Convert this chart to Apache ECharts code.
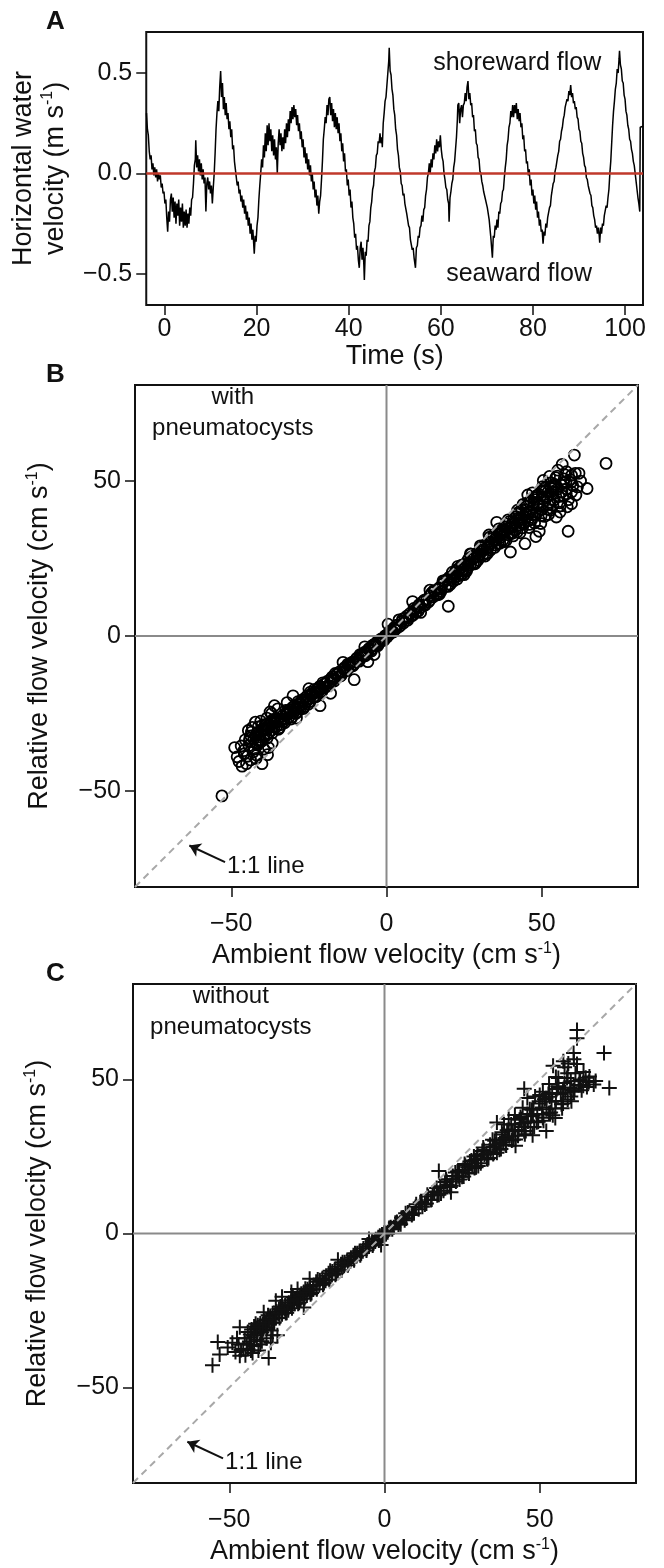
<!DOCTYPE html>
<html>
<head>
<meta charset="utf-8">
<script src="https://cdn.jsdelivr.net/npm/echarts@6/dist/echarts.min.js"></script>
<style>
  html, body { margin: 0; padding: 0; background: #fff; }
  #main { width: 664px; height: 1568px; }
</style>
</head>
<body>
<div id="main"></div>
<script>
// panel A: horizontal water velocity (m/s) against time (s)
var flowTrace = [
  [-3.9,0.30],[-3.7,0.22],[-3.5,0.19],[-3.3,0.11],[-3.1,0.07],[-2.9,0.09],[-2.7,0.02],[-2.5,0.05],[-2.3,-0.01],[-2.1,0.03],
  [-1.9,-0.02],[-1.7,0.02],[-1.5,-0.04],[-1.3,0.0],[-1.1,-0.03],[-0.9,-0.01],[-0.7,-0.07],[-0.5,-0.05],[-0.3,-0.10],[-0.1,-0.09],
  [0.1,-0.15],[0.3,-0.13],[0.5,-0.22],[0.7,-0.29],[0.9,-0.19],[1.1,-0.24],[1.3,-0.13],[1.5,-0.10],[1.7,-0.19],[1.9,-0.12],
  [2.1,-0.22],[2.3,-0.14],[2.5,-0.25],[2.7,-0.15],[2.9,-0.21],[3.1,-0.13],[3.3,-0.26],[3.5,-0.17],[3.7,-0.24],[3.9,-0.15],
  [4.1,-0.27],[4.3,-0.19],[4.5,-0.26],[4.7,-0.18],[4.9,-0.27],[5.1,-0.20],[5.3,-0.25],[5.5,-0.17],[5.7,-0.21],[5.9,-0.13],
  [6.1,-0.12],[6.3,-0.05],[6.5,0.04],[6.7,0.07],[6.8,0.165],[7.0,0.03],[7.2,0.09],[7.4,0.01],[7.6,0.07],[7.8,-0.01],
  [8.0,0.05],[8.2,-0.03],[8.4,0.02],[8.6,-0.05],[8.8,-0.02],[9.0,-0.19],[9.2,-0.05],[9.4,-0.02],[9.6,-0.08],[9.8,-0.04],
  [10.0,-0.10],[10.2,-0.06],[10.4,-0.15],[10.6,-0.07],[10.8,0.0],[11.0,0.10],[11.2,0.22],[11.4,0.30],[11.6,0.36],[11.8,0.31],
  [12.0,0.43],[12.2,0.51],[12.4,0.38],[12.6,0.45],[12.8,0.32],[13.0,0.38],[13.2,0.29],[13.4,0.35],[13.6,0.27],[13.8,0.30],
  [14.0,0.22],[14.2,0.26],[14.4,0.18],[14.6,0.22],[14.8,0.12],[15.0,0.14],[15.2,0.06],[15.4,0.02],[15.6,-0.02],[15.8,-0.06],
  [16.0,-0.04],[16.2,-0.10],[16.4,-0.08],[16.6,-0.14],[16.8,-0.11],[17.0,-0.17],[17.2,-0.13],[17.4,-0.20],[17.6,-0.16],[17.8,-0.23],
  [18.0,-0.19],[18.2,-0.26],[18.4,-0.22],[18.6,-0.30],[18.8,-0.25],[19.0,-0.33],[19.2,-0.28],[19.4,-0.36],[19.5,-0.40],[19.7,-0.31],
  [19.9,-0.34],[20.1,-0.26],[20.3,-0.22],[20.5,-0.13],[20.7,-0.06],[20.9,0.0],[21.1,0.07],[21.3,0.03],[21.5,0.14],[21.7,0.08],
  [21.9,0.20],[22.1,0.11],[22.3,0.24],[22.5,0.14],[22.7,0.25],[22.9,0.16],[23.1,0.22],[23.3,0.11],[23.5,0.19],[23.7,0.09],
  [23.9,0.17],[24.1,0.07],[24.3,0.13],[24.5,0.0],[24.7,0.15],[24.9,0.22],[25.1,0.14],[25.3,0.20],[25.5,0.11],[25.7,0.18],
  [25.9,0.12],[26.1,0.22],[26.3,0.15],[26.5,0.25],[26.7,0.18],[26.9,0.27],[27.1,0.21],[27.3,0.31],[27.5,0.25],[27.7,0.33],
  [27.9,0.27],[28.1,0.34],[28.3,0.28],[28.5,0.32],[28.7,0.24],[28.9,0.29],[29.1,0.21],[29.3,0.25],[29.5,0.17],[29.7,0.21],
  [29.9,0.13],[30.1,0.17],[30.3,0.08],[30.5,0.13],[30.7,0.05],[30.9,0.10],[31.1,0.02],[31.3,0.07],[31.5,-0.01],[31.7,0.04],
  [31.9,-0.04],[32.1,0.0],[32.3,-0.08],[32.5,-0.04],[32.7,-0.12],[32.9,-0.08],[33.1,-0.16],[33.3,-0.11],[33.5,-0.20],[33.7,-0.14],
  [33.9,-0.11],[34.1,-0.03],[34.3,0.06],[34.5,0.17],[34.7,0.22],[34.9,0.28],[35.1,0.25],[35.3,0.34],[35.5,0.29],[35.7,0.37],
  [35.9,0.38],[36.1,0.29],[36.3,0.35],[36.5,0.26],[36.7,0.32],[36.9,0.23],[37.1,0.30],[37.3,0.22],[37.5,0.28],[37.7,0.20],
  [37.9,0.25],[38.1,0.16],[38.3,0.20],[38.5,0.11],[38.7,0.15],[38.9,0.06],[39.1,0.10],[39.3,0.01],[39.5,0.02],[39.7,-0.06],
  [39.9,-0.03],[40.1,-0.11],[40.3,-0.08],[40.5,-0.17],[40.7,-0.14],[40.9,-0.22],[41.1,-0.25],[41.3,-0.32],[41.5,-0.30],[41.7,-0.38],
  [41.9,-0.36],[42.1,-0.43],[42.3,-0.47],[42.5,-0.37],[42.7,-0.34],[42.9,-0.43],[43.1,-0.37],[43.3,-0.46],[43.4,-0.53],[43.6,-0.39],
  [43.8,-0.41],[44.0,-0.33],[44.2,-0.34],[44.4,-0.26],[44.6,-0.24],[44.8,-0.17],[45.0,-0.14],[45.2,-0.08],[45.4,-0.06],[45.6,0.01],
  [45.8,0.03],[46.0,0.09],[46.2,0.10],[46.4,0.16],[46.6,0.15],[46.8,0.20],[47.0,0.15],[47.2,0.18],[47.3,0.13],[47.5,0.25],
  [47.7,0.30],[47.9,0.36],[48.1,0.38],[48.3,0.44],[48.5,0.50],[48.7,0.56],[48.8,0.625],[49.0,0.51],[49.2,0.49],[49.4,0.42],
  [49.6,0.39],[49.8,0.32],[50.0,0.29],[50.2,0.22],[50.4,0.19],[50.6,0.12],[50.8,0.09],[51.0,0.03],[51.2,0.01],[51.4,-0.05],
  [51.6,-0.06],[51.8,-0.11],[52.0,-0.10],[52.2,-0.15],[52.4,-0.15],[52.6,-0.20],[52.8,-0.20],[53.0,-0.26],[53.2,-0.27],[53.4,-0.33],
  [53.6,-0.33],[53.8,-0.38],[54.0,-0.37],[54.2,-0.42],[54.5,-0.47],[54.7,-0.37],[54.9,-0.36],[55.1,-0.31],[55.3,-0.32],[55.5,-0.27],
  [55.7,-0.26],[55.9,-0.21],[56.1,-0.24],[56.3,-0.18],[56.5,-0.17],[56.7,-0.11],[56.9,-0.08],[57.1,-0.02],[57.3,0.0],[57.5,0.05],
  [57.7,0.0],[57.9,0.07],[58.1,0.03],[58.3,0.10],[58.5,0.07],[58.7,0.14],[58.9,0.10],[59.1,0.17],[59.3,0.11],[59.5,0.16],
  [59.7,0.13],[59.9,0.19],[60.1,0.12],[60.3,0.08],[60.5,0.06],[60.7,0.0],[60.9,-0.03],[61.1,-0.07],[61.3,-0.08],[61.5,-0.13],
  [61.7,-0.15],[61.8,-0.24],[62.0,-0.12],[62.2,-0.09],[62.4,-0.05],[62.6,-0.03],[62.8,0.03],[63.0,0.06],[63.2,0.12],[63.4,0.18],
  [63.6,0.27],[63.7,0.34],[63.9,0.35],[64.1,0.25],[64.3,0.32],[64.5,0.34],[64.7,0.28],[64.9,0.34],[65.1,0.35],[65.3,0.40],
  [65.5,0.36],[65.7,0.43],[65.9,0.46],[66.1,0.37],[66.3,0.40],[66.5,0.34],[66.7,0.35],[66.9,0.28],[67.1,0.29],[67.3,0.21],
  [67.5,0.22],[67.7,0.15],[67.9,0.14],[68.1,0.08],[68.3,0.07],[68.5,0.01],[68.7,0.0],[68.9,-0.04],[69.1,-0.06],[69.3,-0.09],
  [69.5,-0.11],[69.7,-0.13],[69.9,-0.15],[70.1,-0.17],[70.3,-0.20],[70.5,-0.23],[70.7,-0.28],[70.9,-0.33],[71.0,-0.36],[71.2,-0.42],
  [71.4,-0.31],[71.6,-0.32],[71.8,-0.26],[72.0,-0.28],[72.2,-0.23],[72.4,-0.27],[72.6,-0.19],[72.8,-0.20],[73.0,-0.15],[73.2,-0.14],
  [73.4,-0.09],[73.6,-0.08],[73.8,-0.02],[74.0,0.03],[74.2,0.07],[74.4,0.14],[74.6,0.17],[74.8,0.23],[75.0,0.25],[75.2,0.31],
  [75.4,0.28],[75.6,0.34],[75.8,0.28],[76.0,0.34],[76.2,0.30],[76.4,0.35],[76.6,0.27],[76.8,0.32],[77.0,0.26],[77.2,0.30],
  [77.4,0.23],[77.6,0.25],[77.8,0.17],[78.0,0.19],[78.2,0.11],[78.4,0.12],[78.6,0.05],[78.8,0.06],[79.0,-0.01],[79.2,0.02],
  [79.4,-0.06],[79.6,-0.03],[79.8,-0.11],[80.0,-0.08],[80.2,-0.15],[80.4,-0.11],[80.6,-0.18],[80.8,-0.14],[81.0,-0.22],[81.2,-0.19],
  [81.4,-0.26],[81.6,-0.23],[81.8,-0.29],[82.0,-0.28],[82.2,-0.35],[82.4,-0.29],[82.6,-0.31],[82.8,-0.25],[83.0,-0.27],[83.2,-0.22],
  [83.4,-0.22],[83.6,-0.17],[83.8,-0.16],[84.0,-0.11],[84.2,-0.11],[84.4,-0.05],[84.6,-0.04],[84.8,0.01],[85.0,0.03],[85.2,0.06],
  [85.4,0.09],[85.6,0.11],[85.8,0.16],[86.0,0.17],[86.2,0.21],[86.4,0.23],[86.6,0.27],[86.8,0.29],[87.0,0.33],[87.2,0.33],
  [87.4,0.37],[87.6,0.36],[87.8,0.41],[88.0,0.39],[88.2,0.44],[88.4,0.38],[88.6,0.40],[88.8,0.35],[89.0,0.36],[89.2,0.32],
  [89.4,0.33],[89.6,0.28],[89.8,0.27],[90.0,0.22],[90.2,0.21],[90.4,0.16],[90.6,0.15],[90.8,0.10],[91.0,0.08],[91.2,0.04],
  [91.4,0.03],[91.6,-0.02],[91.8,-0.03],[92.0,-0.06],[92.2,-0.06],[92.4,-0.10],[92.6,-0.11],[92.8,-0.16],[93.0,-0.17],[93.2,-0.21],
  [93.4,-0.23],[93.6,-0.27],[93.8,-0.26],[94.0,-0.30],[94.2,-0.27],[94.4,-0.31],[94.5,-0.345],[94.7,-0.27],[94.9,-0.30],[95.1,-0.25],
  [95.3,-0.26],[95.5,-0.21],[95.7,-0.21],[95.9,-0.16],[96.1,-0.17],[96.3,-0.12],[96.5,-0.08],[96.7,0.0],[96.9,0.06],[97.1,0.15],
  [97.3,0.24],[97.5,0.31],[97.7,0.36],[97.9,0.42],[98.1,0.45],[98.3,0.52],[98.5,0.50],[98.7,0.57],[98.8,0.61],[99.0,0.54],
  [99.2,0.52],[99.4,0.46],[99.6,0.45],[99.8,0.39],[100.0,0.37],[100.2,0.31],[100.4,0.29],[100.6,0.24],[100.8,0.22],[101.0,0.17],
  [101.2,0.16],[101.4,0.12],[101.6,0.10],[101.8,0.06],[102.0,0.04],[102.2,0.0],[102.4,-0.04],[102.6,-0.08],[102.8,-0.12],[103.0,-0.15],
  [103.2,-0.19],[103.3,0.23],[103.9,0.235]
]
var timeRange = [-3.95, 103.9]
var velocityRange = [-0.655, 0.704]
var timeTicks = [0, 20, 40, 60, 80, 100]
var velocityTicks = [-0.5, 0, 0.5]

// panels B and C: [ambient, relative] flow velocity (cm/s)
var withPneumatocysts = [
  [-53.0,-51.6],[-48.9,-36.0],[-48.1,-39.0],[-45.1,-41.2],[-44.3,-35.4],[-40.1,-41.2],[-38.3,-38.3],[-41.6,-34.8],[-43.0,-37.5],[-39.5,-36.5],
  [-36.1,-22.5],[-37.0,-25.0],[-38.5,-26.5],[-41.3,-29.3],[-40.2,-29.0],[-39.0,-28.5],[-30.1,-19.3],[-21.4,-22.5],[-10.4,-14.1],[-6.0,-8.3],
  [0.5,3.8],[8.4,11.1],[19.9,9.6],[35.5,36.7],[39.9,27.1],[44.6,29.8],[48.1,32.1],[49.2,33.8],[54.7,38.4],[58.5,33.8],
  [59.6,42.7],[59.6,46.5],[64.6,47.6],[59.6,51.9],[56.6,55.4],[60.5,58.4],[70.7,55.7],[50.3,48.2],
  [-42,-32.1],[-41,-34.0],[-40,-30.0],[-39.5,-32.1],[-39,-28.8],[-38,-31.4],[-37.5,-28.8],[-37,-30.4],[-36,-27.0],[-35.5,-29.3],
  [-35,-27.4],[-34,-28.6],[-33.5,-25.8],[-33,-26.7],[-32,-24.3],[-31.5,-26.3],[-31,-24.4],[-30,-24.9],[-29.5,-22.4],[-29,-23.8],
  [-28,-21.6],[-27.5,-23.0],[-27,-21.1],[-26,-21.5],[-25.5,-19.3],[-25,-20.4],[-24,-18.5],[-23.5,-19.7],[-23,-18.1],[-22,-18.2],
  [-21.5,-16.3],[-21,-17.0],[-20,-15.5],[-19.5,-16.4],[-19,-14.6],[-18,-14.9],[-17.5,-13.2],[-17,-13.9],[-16,-12.4],[-15.5,-13.1],
  [-15,-11.5],[-14,-11.6],[-13.5,-10.2],[-13,-10.9],[-12,-9.3],[-11.5,-9.8],[-11,-8.4],[-10,-8.3],[-9.5,-7.1],[-9,-7.6],
  [-8,-6.1],[-7.5,-6.5],[-7,-5.2],[-6,-5.1],[-5.5,-4.0],[-5,-4.4],[-4,-2.9],[-3.5,-3.1],[-3,-1.9],[-2,-1.8],
  [-1.5,-0.9],[-1,-1.1],[0,0.2],
  [-41.5,-35.2],[-40.5,-31.6],[-38.5,-33.0],[-36.5,-26.9],[-34.5,-29.6],[-32.5,-24.0],[-30.5,-26.2],[-28.5,-21.2],[-26.5,-22.8],[-24.5,-18.1],
  [-22.5,-19.4],[-20.5,-15.1],[-18.5,-16.0],[-16.5,-12.1],[-14.5,-12.6],[-12.5,-9.1],[-10.5,-9.2],[-8.5,-6.0],[-6.5,-5.9],[-4.5,-3.0],
  [-2.5,-2.5],[-0.5,0.0],
  [-46,-37],[-44,-33],[-42.5,-36.5],[-43.5,-31],[-40.5,-27.5],[-37.5,-24.5],[-35,-23.5],[-32,-21.5],[-29,-26.5],[-25,-17],
  [-18,-18.5],[-14,-8.5],[-4,-6.0],[-7,-3.5],
  [-42.8,-33.2],[-41.8,-31.3],[-40.8,-33.5],[-39.8,-30.6],[-38.8,-32.2],[-37.8,-29.5],[-36.8,-31.3],[-35.8,-28.0],[-34.8,-30.1],[-33.8,-26.9],
  [-32.8,-28.0],[-31.8,-25.2],[-30.8,-26.8],[-29.8,-23.5],[-28.8,-24.6],[-27.8,-22.2],[-26.8,-23.4],[-25.8,-20.4],[-24.8,-21.2],[-23.8,-18.8],
  [-22.8,-19.6],[-21.8,-17.1],[-20.8,-17.9],[-19.8,-15.4],[-18.8,-16.1],[-17.8,-13.8],[-16.8,-14.5],[-15.8,-12.2],[-14.8,-12.9],[-13.8,-10.7],
  [-12.8,-11.2],[-11.8,-9.0],[-10.8,-9.6],[-9.8,-7.5],[-8.8,-8.1],[-7.8,-5.8],[-6.8,-6.4],[-5.8,-4.3],[-4.8,-4.8],[-3.8,-2.6],
  [-2.8,-3.1],[-1.8,-1.0],[-0.8,-1.4],
  [-44.5,-30.5],[-45.5,-33.5],[-43.2,-29.5],[-42.2,-27.8],[-46.8,-35.5],[-47.5,-40.5],[-44.8,-38.8],[-41.8,-38.5],
  [-44.2,-33.8],[-43.7,-32.2],[-42.2,-34.5],[-41.2,-32.6],[-40.3,-34.0],[-39.2,-30.1],[-38.2,-30.0],[-37.2,-27.6],[-36.2,-29.2],[-35.2,-26.8],
  [-34.2,-27.4],[-33.2,-27.7],[-32.2,-25.5],[-31.2,-23.8],[-30.2,-23.0],[-29.2,-25.0],[-28.2,-23.2],[-27.2,-20.6],[-26.2,-20.0],[-25.2,-22.0],
  [-24.2,-19.3],[-23.2,-17.2],[-22.2,-17.0],[-21.2,-18.3],[-20.2,-16.6],[-43.8,-40.0],[-45.8,-38.0],[-46.5,-42.0],[-42.0,-39.5],[-38.0,-36.0],
  [-36.8,-34.5],
  [0.5,0.7],[1,0.6],[1.5,1.7],[2,1.4],[2.5,2.7],[3,2.3],[3.5,3.5],[4,3.0],[5,4.7],[5.5,4.2],
  [6,5.8],[7,5.8],[7.5,7.2],[8,6.5],[9,8.3],[9.5,7.7],[10,9.4],[11,9.2],[11.5,10.9],[12,10.0],
  [13,11.9],[13.5,11.0],[14,13.0],[15,12.6],[15.5,14.5],[16,13.3],[17,15.6],[17.5,14.4],[18,16.7],[19,16.0],
  [19.5,18.3],[20,16.7],[21,19.3],[21.5,17.7],[22,20.4],[23,19.4],[23.5,21.9],[24,20.0],[25,22.9],[25.5,21.1],
  [26,24.1],[27,22.8],[27.5,25.6],[28,23.4],[29,26.6],[29.5,24.5],[30,27.7],[31,26.1],[31.5,29.3],[32,26.7],
  [33,30.4],[33.5,27.8],[34,31.5],[35,29.4],[35.5,33.0],[36,29.9],[37,34.1],[37.5,31.0],[38,35.3],[39,32.7],
  [39.5,36.9],[40,33.0],[41,37.9],[41.5,34.1],[42,39.3],[43,35.8],[43.5,40.8],[44,36.1],[45,41.8],[45.5,37.2],
  [46,43.2],[47,39.1],[47.5,44.7],[48,39.2],[49,45.7],[50,40.8],[51,47.9],[52,42.4],[53,49.4],[54,43.9],[55,51.6],
  [0.2,-0.3],[1.2,1.6],[2.2,1.3],[3.2,3.4],[4.5,3.4],[6.5,6.4],[8.5,6.7],[10.5,10.1],[12.5,10.0],[14.5,13.9],
  [16.5,13.3],[18.5,17.6],[20.5,16.6],[22.5,21.3],[24.5,20.0],[26.5,25.0],[28.5,23.3],[30.5,28.7],[32.5,26.6],[34.5,32.5],
  [36.5,29.9],[38.5,36.2],[40.5,33.2],[42.5,39.9],[44.5,36.6],[46.5,43.6],[48.5,39.9],[50.5,47.3],[52.5,43.2],[54.5,51.1],
  [56.5,46.5],[58,53.0],
  [52,46.5],[53.5,47.5],[55.5,45],[57,49.5],[56,42],[58,47.5],[61,45.5],[62.5,50],[57.5,52],[54,49],
  [51.5,44.5],[60,48.5],[46,36],[44,42.5],[42,33.5],[38.5,30.8],[33,32.6],[27,26.5],[23,22.5],[14,14.8],
  [4,5.2],[11,7.6],[17,13.5],[25,19.8],[31,27.9],
  [5.2,5.5],[6.8,5.1],[8.8,8.9],[10.2,8.0],[12.2,11.6],[13.8,11.4],[15.2,14.6],[16.8,13.9],[18.2,17.8],[19.8,16.0],
  [21.2,20.6],[22.8,18.4],[24.2,22.9],[25.8,21.0],[27.2,26.4],[28.8,23.8],[30.2,29.1],[31.8,25.8],[33.2,31.9],[34.8,28.6],
  [36.2,34.6],[37.8,30.4],[39.2,37.5],[40.8,32.3],[42.2,40.6],[43.8,34.9],[45.2,42.9],[46.8,37.6],[48.2,45.2],[49.8,38.8],
  [51.2,46.8],[52.8,40.6],[54.2,48.3],[55.8,43.0],[57.2,50.7],[58.6,44.0],[59.5,49.6],[60.8,52.5],[53.2,45.8],[48.8,42.6],
  [44.8,39.4],[40.2,35.1],[36.8,31.9],[32.8,28.7],[28.2,25.3],[24.8,21.6],[20.8,18.2],[17.2,15.1],
  [45.5,45.5],[47,46.2],[50.5,50.2],[52.5,51.5],[55.2,53.5],[49,41.8],[51.8,41.0],[53.6,42.2],[56.8,45.1],[58.2,41.7],
  [41.8,38.5],[39.0,34.8],[43.2,37.8],[46.2,40.2],[38,33.8],[35,31.2],[31,28.5],[29.8,26.3],[26.2,23.5],[22.2,19.9],
  [20.3,19.0],[21.8,18.8],[23.3,20.8],[24.7,21.3],[26.3,22.9],[27.8,24.8],[29.3,25.6],[30.8,27.3],[32.3,28.4],[33.8,29.9],
  [35.3,30.8],[36.7,32.8],[38.3,33.6],[39.8,34.9],[41.3,36.3],[42.7,37.2],[44.3,38.7],[45.8,40.1],[47.3,41.6],[48.7,43.0],
  [50.2,44.3],[51.7,45.1],[53.3,46.6],[54.8,47.2],[56.2,48.9],[57.8,49.8],[59.2,50.4],[61.5,48.1],[62.0,52.5],[57.9,45.9],
  [55.9,40.0],[52.2,39.2],[50.9,38.6],[47.7,36.5],[45.9,35.0],[43.0,33.3],[49.7,36.3],[52.9,47.9],[50.0,46.5],[47.8,44.0],
  [45.0,40.8],[42.5,38.0],[40.6,36.5],[37.0,33.0]
]
var withoutPneumatocysts = [
  [-44,-32.0],[-43,-33.8],[-42,-30.2],[-41,-32.5],[-40,-29.2],[-39,-31.1],[-38,-27.9],[-37,-29.3],[-36,-25.9],[-35,-27.5],
  [-34,-24.5],[-33,-26.2],[-32,-23.4],[-31,-24.9],[-30,-21.7],[-29,-22.8],[-28,-20.1],[-27,-21.5],[-26,-19.0],[-25,-20.1],
  [-24,-17.3],[-23,-18.2],[-22,-15.7],[-21,-16.8],[-20,-14.5],[-19,-15.3],[-18,-12.9],[-17,-13.5],[-16,-11.5],[-15,-12.1],
  [-14,-10.0],[-13,-10.5],[-12,-8.6],[-11,-9.0],[-10,-7.1],[-9,-7.3],[-8,-5.7],[-7,-5.8],[-6,-4.2],[-5,-4.2],
  [-4,-2.6],[-3,-2.6],[-2,-1.2],[-1,-1.1],
  [-43.5,-35.1],[-41.5,-29.3],[-39.5,-32.1],[-37.5,-26.5],[-35.5,-28.9],[-33.5,-23.7],[-31.5,-25.7],[-29.5,-20.7],[-27.5,-22.5],[-25.5,-17.9],
  [-23.5,-19.3],[-21.5,-14.9],[-19.5,-16.1],[-17.5,-12.1],[-15.5,-12.9],[-13.5,-9.3],[-11.5,-9.6],[-9.5,-6.4],[-7.5,-6.4],[-5.5,-3.6],
  [-3.5,-3.2],[-1.5,-0.7],[-0.5,-0.7],
  [-55.4,-42.8],[-53.1,-39.3],[-53.7,-35.2],[-46.6,-30.4],[-46.6,-39.7],[-44.4,-35.9],[-41.1,-34.5],[-37.3,-40.4],[-38.9,-25.6],[-24.1,-14.7],
  [-45.5,-37.5],[-43,-38],[-48,-38.5],[-42,-36.5],[-40,-36],[-36,-33],[-35,-21.8],[-30,-19],[-26,-24],[-15,-8.5],
  [-1.1,-3.7],[-5,-1.8],
  [-42.8,-31.2],[-41.8,-33.1],[-40.8,-29.8],[-39.8,-31.9],[-38.8,-28.3],[-37.8,-30.5],[-36.8,-26.8],[-35.8,-29.0],[-34.8,-25.3],[-33.8,-27.4],
  [-32.8,-23.9],[-31.8,-25.8],[-30.8,-22.5],[-29.8,-24.3],[-28.8,-21.0],[-27.8,-22.8],[-26.8,-19.6],[-25.8,-21.2],[-24.8,-18.1],[-23.8,-19.7],
  [-22.8,-16.7],[-21.8,-18.1],[-20.8,-15.2],[-19.8,-16.6],[-18.8,-13.7],[-17.8,-15.0],[-16.8,-12.3],[-15.8,-13.4],[-14.8,-10.8],[-13.8,-11.9],
  [-12.8,-9.3],[-11.8,-10.3],[-10.8,-7.9],[-9.8,-8.7],[-8.8,-6.4],[-7.8,-7.1],[-6.8,-4.9],[-5.8,-5.5],[-4.8,-3.4],[-3.8,-3.9],
  [-2.8,-1.9],[-1.8,-2.3],[-0.8,-0.3],
  [-45,-34],[-47,-36],[-49,-35.5],[-44,-37.5],[-39.5,-35],[-36.5,-31.5],[-33,-20.5],[-28,-18],[-38,-34],
  [-43.2,-32.8],[-42.2,-33.0],[-41.2,-30.8],[-40.2,-30.6],[-39.2,-29.4],[-38.2,-29.0],[-37.2,-28.0],[-36.2,-27.8],[-35.2,-26.3],[-34.2,-26.0],
  [-33.2,-24.9],[-32.2,-24.6],[-31.2,-23.3],[-30.2,-23.1],[-29.2,-21.9],[-28.2,-21.6],[-27.2,-20.5],[-26.2,-20.1],[-25.2,-19.0],[-24.2,-18.6],
  [-46.2,-37.8],[-47.5,-34.0],[-50.5,-37.0],[-44.8,-39.5],[-42.5,-38.8],[-40.6,-38.0],[-36.6,-35.5],[-34.5,-33.0],
  [0,0.3],[1,0.4],[2,2.0],[3,2.0],[4,3.7],[5,3.5],[6,5.2],[7,4.9],[8,6.9],[9,6.4],
  [10,8.6],[11,7.9],[12,10.3],[13,9.4],[14,12.0],[15,10.9],[16,13.6],[17,12.4],[18,15.3],[19,13.9],
  [20,17.0],[21,15.4],[22,18.7],[23,16.9],[24,20.4],[25,18.4],[26,22.0],[27,19.8],[28,23.7],[29,21.3],
  [30,25.4],[31,22.8],[32,27.1],[33,24.3],[34,28.8],[35,25.8],[36,30.4],[37,27.2],[38,32.1],[39,28.7],
  [40,33.8],[41,30.2],[42,35.5],[43,31.7],[44,37.2],[45,33.2],[46,38.8],[47,34.6],[48,40.5],[49,36.1],
  [50,42.2],[51,37.6],[52,43.9],[53,39.1],[54,45.6],[55,40.6],[56,47.2],[57,42.0],[58,48.9],[59,43.5],[60,49.4],
  [0.5,-0.2],[1.5,1.8],[2.5,1.4],[3.5,3.5],[4.5,2.9],[5.5,5.1],[6.5,4.3],[7.5,6.8],[9.5,6.6],[11.5,10.1],
  [13.5,9.7],[15.5,13.3],[17.5,12.6],[19.5,16.7],[21.5,15.6],[23.5,20.1],[25.5,18.5],[27.5,23.4],[29.5,21.5],[31.5,26.8],
  [33.5,24.5],[35.5,30.1],[37.5,27.4],[39.5,33.5],[41.5,30.4],[43.5,36.9],[45.5,33.3],[47.5,40.2],[49.5,36.3],[51.5,43.6],
  [53.5,39.3],[55.5,46.9],[57.5,42.2],
  [5.2,3.0],[6.8,6.6],[8.8,6.0],[10.2,9.5],[12.2,8.7],[13.8,12.6],[15.2,11.0],[16.8,14.8],[18.2,13.0],[19.8,17.6],
  [21.2,15.1],[22.8,19.8],[24.2,17.5],[25.8,22.6],[27.2,19.5],[28.8,25.0],[30.2,21.9],[31.8,27.9],[33.2,24.1],[34.8,30.4],
  [36.2,26.2],[37.8,32.9],[39.2,28.6],[40.8,35.4],[42.2,30.5],[43.8,37.8],[45.2,32.2],[46.8,40.3],[48.2,34.6],[49.8,42.9],
  [51.2,36.6],[52.8,45.3],[54.2,38.4],[55.8,47.8],[57.2,40.7],[58.8,50.5],[60.2,42.9],[61.5,52.0],[62.5,48.2],[64.8,50.6],
  [60.8,46.4],[57.5,46.8],[53.2,44.4],[50.8,38.8],[47.2,38.1],[44.2,34.6],[41.2,33.2],[38.2,29.6],[35.2,28.1],[32.2,25.6],
  [29.2,23.9],[26.2,20.6],[23.2,18.5],[20.2,15.8],
  [21.8,17.6],[23.8,18.6],[25.2,20.6],[26.8,21.4],[28.3,22.0],[29.8,24.1],[31.2,24.3],[32.8,26.0],[34.2,26.5],[35.8,28.9],
  [37.2,29.4],[38.8,31.0],[40.2,31.6],[41.8,33.5],[43.2,33.6],[44.8,35.9],[46.2,36.4],[47.8,38.2],[49.2,38.6],[50.8,40.9],
  [52.2,40.3],[53.8,42.8],[55.2,43.0],[56.8,45.3],[58.2,45.8],[59.8,47.4],[61.2,47.0],[62.8,49.5],[64.0,48.0],[65.8,49.2],
  [48.5,44.5],[51,46],[46,44],[44.5,40.8],[42,38.5],[40,37.2],[38.5,35.5],[55.2,50.8],[59.2,55.2],[61,56.6],
  [62.0,66.1],[62.0,63.4],[70.7,58.6],[72.4,47.2],[65.2,47.6],[60.9,58.6],[67.4,48.4],[54.3,54.5],[57.6,55.9],[64.1,52.4],
  [45.0,47.0],[52.1,33.3],[47.7,31.9],[42.2,28.5],[36.2,36.0],[17.5,20.3],[21.4,13.4],[59,52],[63,50],[61,46],
  [66,51],[56,50.5],[58,54],[62,55],[53,48.5],[50,45],[55,37.5],[60,44.5],[63.5,46.5],[68,49.5]
]
var velocityLimit = 81
var velocityTicksCm = [-50, 0, 50]

var FONT = 'Liberation Sans, Arial, Helvetica, sans-serif'
var INK = '#111'

function minus (s) {
  return String(s).replace('-', '\u2212')
}

function supRich (lh) {
  return { sup: { fontSize: 16, verticalAlign: 'top', fontFamily: FONT, color: INK, lineHeight: lh } }
}

function timeAxes () {
  return {
    x: {
      gridIndex: 0, type: 'value', min: timeRange[0], max: timeRange[1],
      axisLine: { show: false, onZero: false }, splitLine: { show: false },
      axisTick: { customValues: timeTicks, length: 10, lineStyle: { color: INK, width: 1.5 } },
      axisLabel: { customValues: timeTicks, fontSize: 25, fontFamily: FONT, color: INK, margin: 12 },
      name: 'Time (s)', nameLocation: 'middle', nameGap: 36,
      nameTextStyle: { fontSize: 27, fontFamily: FONT, color: INK }
    },
    y: {
      gridIndex: 0, type: 'value', min: velocityRange[0], max: velocityRange[1],
      axisLine: { show: false, onZero: false }, splitLine: { show: false },
      axisTick: { customValues: velocityTicks, length: 10, lineStyle: { color: INK, width: 1.5 } },
      axisLabel: {
        customValues: velocityTicks, fontSize: 25, fontFamily: FONT, color: INK, margin: 14,
        formatter: function (v) { return minus(v.toFixed(1)) }
      },
      name: 'Horizontal water\nvelocity (m s{sup|-1})', nameLocation: 'middle', nameRotate: 90, nameGap: 60,
      nameTextStyle: { fontSize: 27, fontFamily: FONT, color: INK, lineHeight: 32, rich: supRich(32) }
    }
  }
}

function velocityAxis (idx, isX, title) {
  return {
    gridIndex: idx, type: 'value', min: -velocityLimit, max: velocityLimit,
    axisLine: { show: false, onZero: false }, splitLine: { show: false },
    axisTick: { customValues: velocityTicksCm, length: 10, lineStyle: { color: INK, width: 1.5 } },
    axisLabel: {
      customValues: velocityTicksCm, fontSize: 25, fontFamily: FONT, color: INK, margin: isX ? 25 : 14,
      formatter: function (v) { return minus(v) }
    },
    name: title, nameLocation: 'middle', nameRotate: isX ? 0 : 90, nameGap: isX ? 54 : 80,
    nameTextStyle: { fontSize: 27, fontFamily: FONT, color: INK, lineHeight: 30, rich: supRich(30) }
  }
}

function guideSeries (idx) {
  var lim = velocityLimit
  var base = { type: 'line', xAxisIndex: idx, yAxisIndex: idx, symbol: 'none', silent: true }
  return [
    Object.assign({ data: [[0, -lim], [0, lim]], lineStyle: { color: '#8a8a8a', width: 2 } }, base),
    Object.assign({ data: [[-lim, 0], [lim, 0]], lineStyle: { color: '#8a8a8a', width: 2 } }, base),
    Object.assign({ data: [[-lim, -lim], [lim, lim]], lineStyle: { color: '#a8a8a8', width: 2, type: [7, 5] } }, base)
  ]
}

function noteSeries (idx, label) {
  return {
    type: 'scatter', xAxisIndex: idx, yAxisIndex: idx, silent: true, symbolSize: 1,
    itemStyle: { color: 'rgba(0,0,0,0)', opacity: 1 },
    data: [
      { value: [-49.5, 72], name: label, label: { position: 'inside', align: 'center', lineHeight: 31 } },
      { value: [-51.5, -74.3], name: '1:1 line', label: { position: 'right', distance: 0 } }
    ],
    label: { show: true, formatter: '{b}', fontSize: 24, fontFamily: FONT, color: INK },
    markLine: {
      silent: true, symbol: ['none', 'arrow'], symbolSize: 11,
      lineStyle: { color: INK, width: 2, type: 'solid' }, label: { show: false },
      data: [[{ coord: [-52, -73] }, { coord: [-63.5, -67.6] }]]
    }
  }
}

function drawFigure (id) {
  var chart = echarts.init(document.getElementById(id), null, { renderer: 'canvas' })
  var ta = timeAxes()
  var frame = { show: true, borderColor: INK, borderWidth: 2, backgroundColor: 'transparent' }
  var flowTitle = 'Ambient flow velocity (cm s{sup|-1})'
  var relTitle = 'Relative flow velocity (cm s{sup|-1})'
  chart.setOption({
    animation: false,
    backgroundColor: '#fff',
    grid: [
      Object.assign({ left: 140, top: 32, width: 503, height: 273 }, frame),
      Object.assign({ left: 135, top: 385, width: 503, height: 502 }, frame),
      Object.assign({ left: 133, top: 984, width: 503, height: 503 }, frame)
    ],
    xAxis: [ta.x, velocityAxis(1, true, flowTitle), velocityAxis(2, true, flowTitle)],
    yAxis: [ta.y, velocityAxis(1, false, relTitle), velocityAxis(2, false, relTitle)],
    graphic: [
      { type: 'text', left: 46, top: 9, style: { text: 'A', font: 'bold 26px ' + FONT, fill: INK } },
      { type: 'text', left: 46, top: 362, style: { text: 'B', font: 'bold 26px ' + FONT, fill: INK } },
      { type: 'text', left: 46, top: 961, style: { text: 'C', font: 'bold 26px ' + FONT, fill: INK } }
    ],
    series: [
      {
        type: 'line', xAxisIndex: 0, yAxisIndex: 0, data: flowTrace, symbol: 'none', silent: true,
        lineStyle: { color: '#000', width: 1.5 }
      },
      {
        type: 'line', xAxisIndex: 0, yAxisIndex: 0, data: [[timeRange[0], 0], [timeRange[1], 0]], symbol: 'none', silent: true,
        lineStyle: { color: '#c0392b', width: 2.5 }
      },
      {
        type: 'scatter', xAxisIndex: 0, yAxisIndex: 0, silent: true, symbolSize: 1,
        itemStyle: { color: 'rgba(0,0,0,0)', opacity: 1 },
        label: { show: true, formatter: '{b}', position: 'inside', fontSize: 25, fontFamily: FONT, color: INK },
        data: [{ value: [76.6, 0.548], name: 'shoreward flow' }, { value: [77.0, -0.50], name: 'seaward flow' }]
      }
    ].concat(guideSeries(1), [
      {
        type: 'scatter', xAxisIndex: 1, yAxisIndex: 1, data: withPneumatocysts, symbol: 'circle', symbolSize: 11,
        itemStyle: { color: 'rgba(0,0,0,0)', borderColor: '#000', borderWidth: 1.8, opacity: 1 }, silent: true
      },
      noteSeries(1, 'with\npneumatocysts')
    ], guideSeries(2), [
      {
        type: 'scatter', xAxisIndex: 2, yAxisIndex: 2, data: withoutPneumatocysts,
        symbol: 'path://M0,6.5H15V8.5H0Z M6.5,0H8.5V15H6.5Z', symbolSize: 15,
        itemStyle: { color: '#111', opacity: 1 }, silent: true
      },
      noteSeries(2, 'without\npneumatocysts')
    ])
  })
  return chart
}

drawFigure('main')
</script>
</body>
</html>
